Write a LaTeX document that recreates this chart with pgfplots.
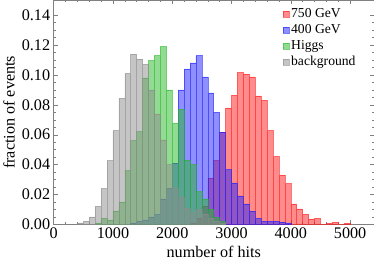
\documentclass[border=0pt]{standalone}
\usepackage{fontspec}
\setmainfont{Liberation Serif}
\usepackage{pgfplots}
\pgfplotsset{compat=1.18}
\definecolor{cred}{rgb}{1,0.1,0.1}
\definecolor{cblue}{rgb}{0.12,0.12,1}
\definecolor{cgreen}{rgb}{0.15,0.72,0.15}
\definecolor{cgray}{rgb}{0.55,0.55,0.55}
\begin{document}
\begin{tikzpicture}
\begin{axis}[
  scale only axis, width=317pt, height=222pt,
  xmin=0, xmax=5400, ymin=0, ymax=0.15,
  xtick={0,1000,2000,3000,4000,5000}, minor x tick num=4,
  ytick={0,0.02,0.04,0.06,0.08,0.10,0.12,0.14}, minor y tick num=3,
  yticklabel style={/pgf/number format/.cd, fixed, fixed zerofill, precision=2},
  xticklabel style={/pgf/number format/1000 sep={}},
  /pgf/number format/assume math mode=true,
  scaled y ticks=false,
  tick align=inside, major tick length=4pt, minor tick length=2pt,
  tick style={black!50, line width=0.4pt},
  axis line style={black!50},
  ticklabel style={font=\fontsize{16}{16}\selectfont},
  label style={font=\fontsize{16}{16}\selectfont},
  xlabel={number of hits}, ylabel={fraction of events},
  legend style={draw=none, fill=none, font=\fontsize{13.5}{13.5}\selectfont,
    at={(0.705,0.98)}, anchor=north west, row sep=1.2pt, cells={anchor=west}},
  legend image code/.code={\draw[#1] (0pt,-3pt) rectangle (6pt,3pt);},
]
\addplot[ybar interval, fill=cred, fill opacity=0.5, draw=cred, draw opacity=0.6, line width=0.5pt] coordinates {
(2300,0.001) (2400,0.004) (2500,0.012) (2600,0.031) (2700,0.0426) (2800,0.0617)
(2900,0.078) (3000,0.0863) (3100,0.1016) (3200,0.1005) (3300,0.0987) (3400,0.086)
(3500,0.083) (3600,0.0627) (3700,0.0453) (3800,0.033) (3900,0.0273) (4000,0.0137)
(4100,0.0104) (4200,0.0067) (4300,0.0036) (4400,0.004) (4500,0) (4600,0.0007)
(4700,0.0013) (4800,0) (4900,0.0006) (5000,0)};
\addlegendentry{750 GeV}
\addplot[ybar interval, fill=cblue, fill opacity=0.5, draw=cblue, draw opacity=0.6, line width=0.5pt] coordinates {
(1300,0.001) (1400,0.002) (1500,0.003) (1600,0.005) (1700,0.0065) (1800,0.017)
(1900,0.024) (2000,0.041) (2100,0.090) (2200,0.104) (2300,0.108) (2400,0.113)
(2500,0.0987) (2600,0.088) (2700,0.075) (2800,0.0617) (2900,0.0367) (3000,0.0277)
(3100,0.019) (3200,0.0137) (3300,0.0088) (3400,0.004) (3500,0.002) (3600,0.002)
(3700,0.002) (3800,0.0015) (3900,0.001) (4000,0)};
\addlegendentry{400 GeV}
\addplot[ybar interval, fill=cgreen, fill opacity=0.5, draw=cgreen, draw opacity=0.6, line width=0.5pt] coordinates {
(700,0.001) (800,0.004) (900,0.003) (1000,0.009) (1100,0.015) (1200,0.036)
(1300,0.056) (1400,0.062) (1500,0.098) (1600,0.1095) (1700,0.113) (1800,0.119)
(1900,0.090) (2000,0.0676) (2100,0.077) (2200,0.043) (2300,0.040) (2400,0.022)
(2500,0.017) (2600,0.010) (2700,0.0047) (2800,0.002) (2900,0)};
\addlegendentry{Higgs}
\addplot[ybar interval, fill=cgray, fill opacity=0.5, draw=cgray, draw opacity=0.6, line width=0.5pt] coordinates {
(400,0.001) (500,0.002) (600,0.005) (700,0.012) (800,0.024) (900,0.0426)
(1000,0.0627) (1100,0.0843) (1200,0.101) (1300,0.114) (1400,0.1106) (1500,0.107)
(1600,0.090) (1700,0.074) (1800,0.0566) (1900,0.040) (2000,0.0245) (2100,0.018)
(2200,0.011) (2300,0.008) (2400,0.010) (2500,0.007) (2600,0.004) (2700,0.002)
(2800,0.001) (2900,0)};
\addlegendentry{background}
\end{axis}
\end{tikzpicture}
\end{document}
